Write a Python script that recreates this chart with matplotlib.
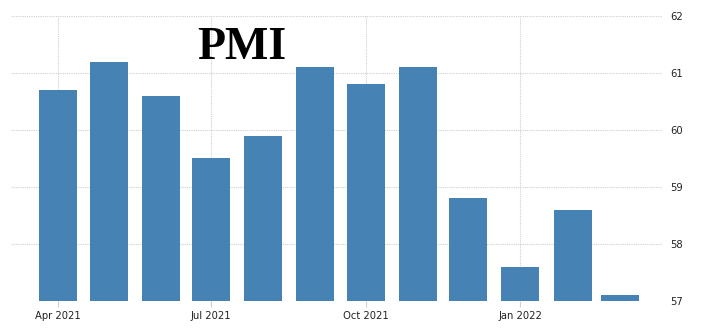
import matplotlib
matplotlib.use("Agg")
import matplotlib.pyplot as plt
import numpy as np
from datetime import datetime

# Données
mois = ["2021-04", "2021-05", "2021-06", "2021-07", "2021-08", "2021-09",
        "2021-10", "2021-11", "2021-12", "2022-01", "2022-02", "2022-03"]
pmi = [60.7, 61.2, 60.6, 59.5, 59.9, 61.1, 60.8, 61.1, 58.8, 57.6, 58.6, 57.1]
graduations = ["2021-04", "2021-07", "2021-10", "2022-01"]
etiquettes = ["Apr 2021", "Jul 2021", "Oct 2021", "Jan 2022"]

dates = [datetime.strptime(m, "%Y-%m") for m in mois]
dates_grad = [datetime.strptime(m, "%Y-%m") for m in graduations]

fig = plt.figure(figsize=(7.1, 3.32), dpi=100)
ax = fig.add_axes([0.0155, 0.0934, 0.9165, 0.8586])

ax.bar(dates, np.array(pmi) - 57, bottom=57, width=22.6, color="#4682b4", zorder=3)

ax.set_ylim(57, 62)
ax.set_xlim(datetime(2021, 3, 4), datetime(2022, 3, 26))
ax.set_yticks(range(57, 63))

ax.set_xticks(dates_grad)
ax.set_xticklabels(etiquettes)
ax.yaxis.tick_right()

for s in ax.spines.values():
    s.set_visible(False)

ax.grid(True, linestyle=(0, (1, 1)), color="#cfcfcf", linewidth=0.8, zorder=0)
ax.tick_params(axis="x", length=4, color="#cfcfcf", labelsize=8, labelcolor="#222222", pad=3)
ax.tick_params(axis="y", length=0, labelsize=8, labelcolor="#222222", pad=6)
for lab in ax.get_xticklabels() + ax.get_yticklabels():
    lab.set_fontstretch("condensed")

ax.text(0.355, 0.888, "PMI", transform=ax.transAxes, ha="center", va="center",
        fontsize=33, fontweight="bold", family="Liberation Serif", zorder=4)

fig.savefig("out.png", dpi=100)
